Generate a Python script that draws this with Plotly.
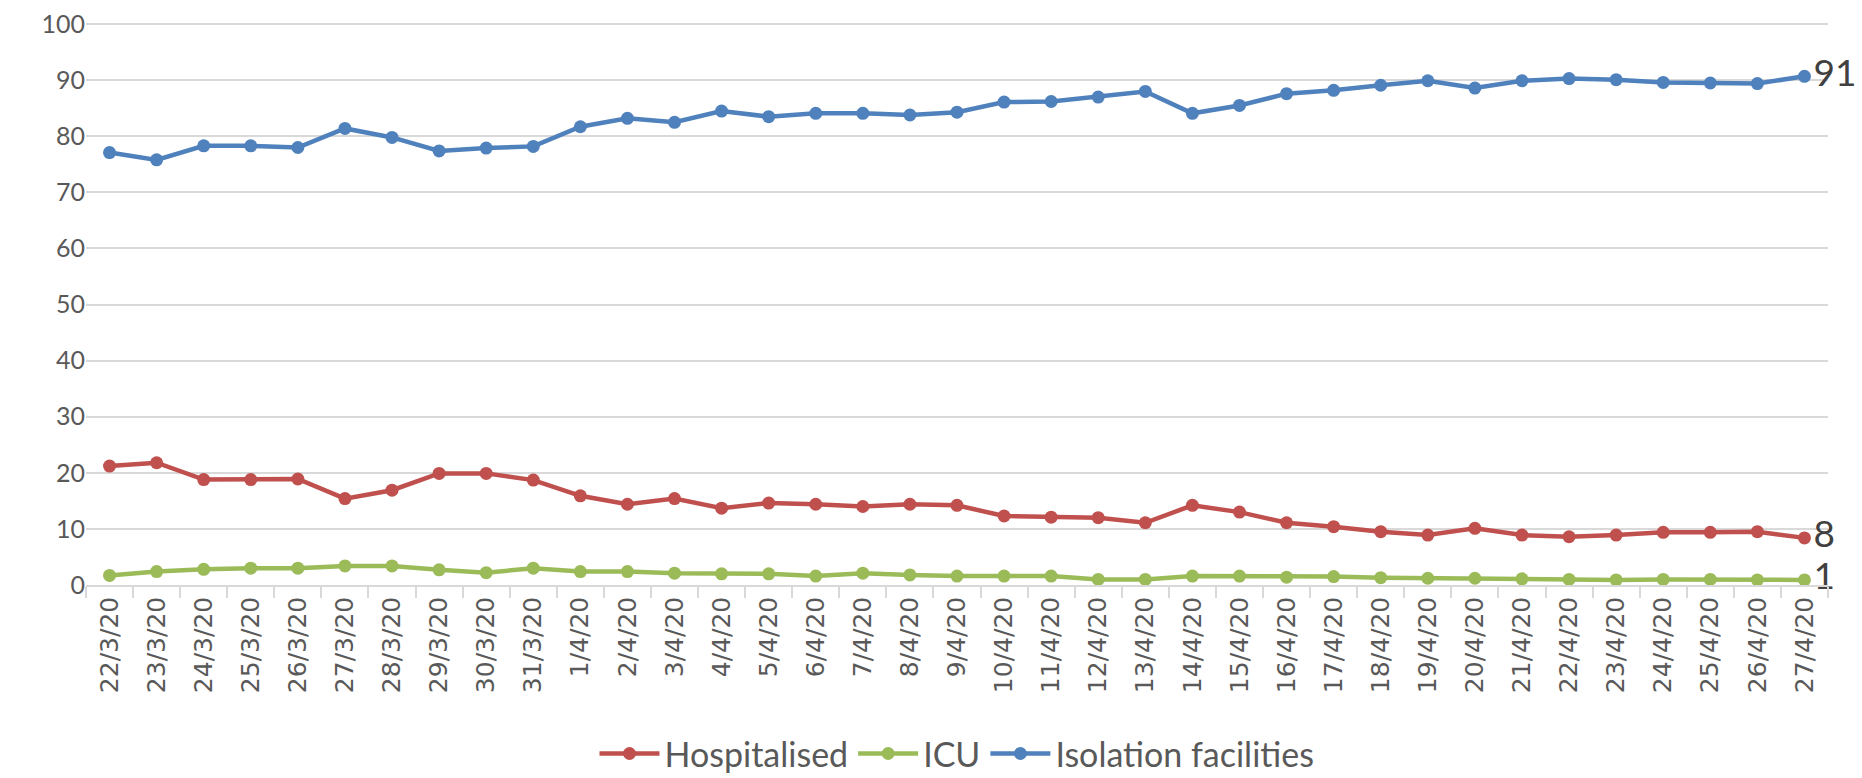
import plotly.graph_objects as go

dates = ["22/3/20", "23/3/20", "24/3/20", "25/3/20", "26/3/20", "27/3/20", "28/3/20",
         "29/3/20", "30/3/20", "31/3/20", "1/4/20", "2/4/20", "3/4/20", "4/4/20",
         "5/4/20", "6/4/20", "7/4/20", "8/4/20", "9/4/20", "10/4/20", "11/4/20",
         "12/4/20", "13/4/20", "14/4/20", "15/4/20", "16/4/20", "17/4/20", "18/4/20",
         "19/4/20", "20/4/20", "21/4/20", "22/4/20", "23/4/20", "24/4/20", "25/4/20",
         "26/4/20", "27/4/20"]

hospitalised = [21.2, 21.8, 18.8, 18.8, 18.9, 15.4, 16.9, 19.9, 19.9, 18.7, 15.9, 14.4,
                15.4, 13.7, 14.6, 14.4, 14.0, 14.4, 14.2, 12.3, 12.1, 12.0, 11.1, 14.2,
                13.0, 11.1, 10.4, 9.5, 8.9, 10.1, 8.9, 8.6, 8.9, 9.4, 9.4, 9.5, 8.4]

icu = [1.7, 2.4, 2.8, 3.0, 3.0, 3.4, 3.4, 2.7, 2.2, 3.0, 2.4, 2.4,
       2.1, 2.0, 2.0, 1.6, 2.1, 1.8, 1.6, 1.6, 1.6, 1.0, 1.0, 1.6,
       1.6, 1.4, 1.5, 1.3, 1.2, 1.2, 1.1, 1.0, 0.9, 1.0, 1.0, 0.9, 0.9]

isolation = [77.1, 75.8, 78.3, 78.3, 78.0, 81.4, 79.8, 77.4, 77.9, 78.2, 81.7, 83.2,
             82.5, 84.5, 83.5, 84.1, 84.1, 83.8, 84.3, 86.1, 86.2, 87.0, 88.0, 84.1,
             85.5, 87.6, 88.2, 89.1, 89.9, 88.6, 89.9, 90.3, 90.1, 89.6, 89.5, 89.4, 90.7]

y_ticks = list(range(0, 101, 10))

FONT = "Lato"
series = [("Hospitalised", hospitalised, "#C0504D"),
          ("ICU", icu, "#9BBB59"),
          ("Isolation facilities", isolation, "#4F81BD")]

fig = go.Figure()
for name, vals, col in series:
    # only the last point gets a data label
    labels = [""] * (len(vals) - 1) + [str(round(vals[-1]))]
    fig.add_trace(go.Scatter(
        x=dates, y=vals, name=name, mode="lines+markers+text",
        line=dict(color=col, width=4.5),
        marker=dict(color=col, size=13),
        text=labels, textposition="middle right",
        textfont=dict(family=FONT, size=37, color="#404040"),
        cliponaxis=False,
    ))

fig.update_layout(
    width=1862, height=778,
    margin=dict(l=86, r=34, t=23, b=193, autoexpand=False),
    plot_bgcolor="white", paper_bgcolor="white",
    font=dict(family=FONT, color="#595959"),
    showlegend=True,
    legend=dict(orientation="h", x=0.5, xanchor="center",
                yref="container", y=0.031, yanchor="middle",
                font=dict(family=FONT, size=34, color="#595959"),
                itemwidth=60, tracegroupgap=0),
)
fig.update_xaxes(
    type="category", range=[-0.5, 36.5], automargin=False,
    tickangle=-90, tickfont=dict(family="DejaVu Sans", size=25, color="#595959"),
    showgrid=False, showline=True, linecolor="#d9d9d9", linewidth=1.5,
    ticks="outside", tickson="boundaries", ticklen=11, tickcolor="#d9d9d9", tickwidth=1.5,
)
fig.update_yaxes(
    range=[0, 100.2], tickvals=y_ticks, automargin=False,
    showgrid=True, gridcolor="#d9d9d9", gridwidth=1.5,
    zeroline=False, showline=False, ticks="",
    tickfont=dict(family=FONT, size=25, color="#595959"),
)

# drop the default 8px body margin so the figure fills the window exactly
fig.write_html("out.html", config={"displayModeBar": False},
               post_script="document.body.style.margin='0';")
